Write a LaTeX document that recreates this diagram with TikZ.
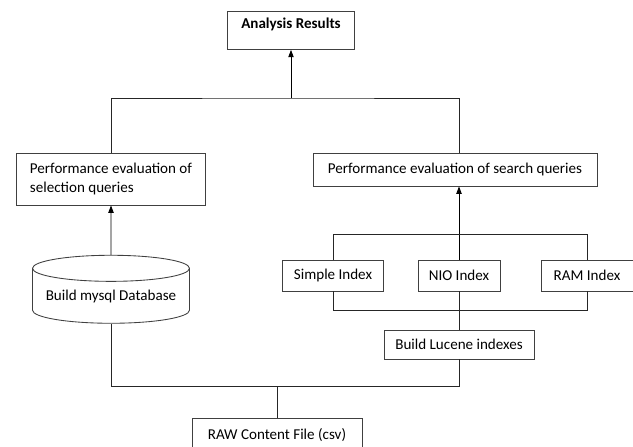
\documentclass[tikz,border=0pt]{standalone}
\usepackage{fontspec}
\setmainfont{Carlito}
\usetikzlibrary{arrows.meta,shapes.geometric}

\begin{document}
\begin{tikzpicture}[
    x=0.75pt, y=-0.75pt,
    >={Triangle[length=5.5pt,width=4pt]},
    font=\fontsize{11.3}{14.5}\selectfont,
    box/.style={draw=black!75,line width=0.65pt,inner sep=0pt,align=left},
    db/.style={cylinder,shape border rotate=90,aspect=0.2,draw=black!75,line width=0.65pt,inner sep=0pt},
    link/.style={black!85,line width=0.65pt},
    flow/.style={->,black,line width=0.65pt}
]
\useasboundingbox (0,0) rectangle (633,447);

% Resultado final
\node[box,anchor=north,minimum width=95.25pt,text height=13pt,text depth=15.5pt,font=\fontsize{11.3}{14.5}\selectfont\bfseries]
    (results) at (291,11) {Analysis Results};

% Avaliacoes
\node[box,minimum width=141.75pt,minimum height=39pt] (evalsel) at (111,179)
    {Performance evaluation of\\selection queries};
\node[box,minimum width=213pt,minimum height=24.75pt] (evalsrch) at (455,169.5)
    {Performance evaluation of search queries};

% Base de dados
\node[db,minimum width=117.75pt,minimum height=51pt] (mysql) at (111,296) {Build mysql Database};

% Indices
\node[box,minimum width=75.75pt,minimum height=23.25pt] (simple) at (333,275.5) {Simple Index};
\node[box,minimum width=61.5pt,minimum height=23.25pt] (nio) at (459,275.5) {NIO Index};
\node[box,minimum width=69pt,minimum height=23.25pt] (ram) at (587,275.5) {RAM Index};
\node[box,minimum width=112.5pt,minimum height=21.75pt] (lucene) at (459,344.5) {Build Lucene indexes};

% Ficheiro de origem
\node[box,minimum width=127.5pt,minimum height=25.5pt] (raw) at (277,435) {RAW Content File (csv)};

% Ligacoes
\coordinate (split) at (291,98);
\draw[link] (evalsel.north) |- (split) -| (evalsrch.north -| nio.north);
\draw[flow] (split) -- (results.south);
\draw[flow] (mysql.north) -- (evalsel.south);
\draw[flow] (nio.north) -- (evalsrch.south -| nio.north);
\draw[link] (simple.north) -- ++(0,-25) -| (ram.north);
\draw[link] (simple.south) -- ++(0,19) -| (ram.south);
\draw[link] (nio.south) -- (lucene.north);
\draw[link] (lucene.south) -- ++(0,27) -| (mysql.south);
\draw[link] (raw.north) -- ++(0,-32);

\end{tikzpicture}
\end{document}
